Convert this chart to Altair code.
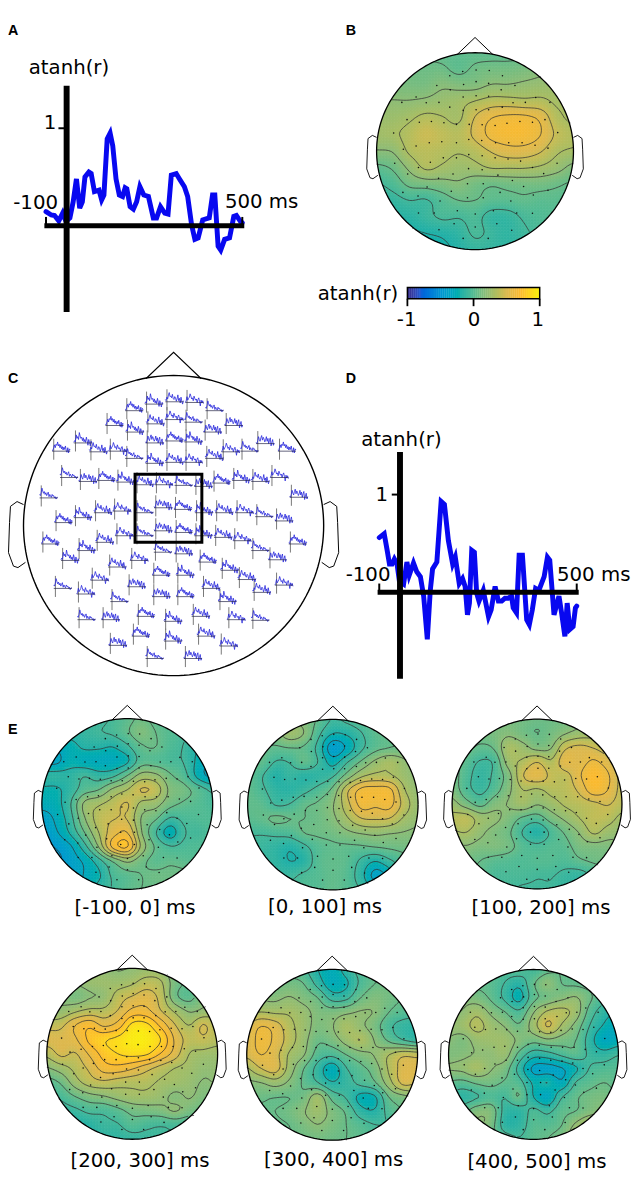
import math
import numpy as np
import pandas as pd
import altair as alt

FONT = "DejaVu Sans"

# ---------- line panels (time in ms, value in atanh(r)) ----------
A_T = [-100,-84,-74,-61,-49,-39,-27,-17,-7,3,11,19,31,38,48,62,70,77,87,96,104,114,124,134,142,147,157,167,177,187,199,213,228,238,250,263,273,283,298,308,323,333,345,355,365,379,399,409,416,426,434,446,461,474,482,494,500]
A_V = [.145,.11,.105,.05,.13,.045,.08,.245,.48,.18,.245,.5,.55,.535,.35,.365,.265,.315,.89,.95,.82,.48,.315,.30,.39,.38,.195,.17,.245,.40,.315,.30,.08,.08,.195,.13,.12,.52,.535,.48,.40,.30,.01,-.14,-.125,.06,.08,.315,.315,-.21,-.25,-.14,-.125,.095,.105,.045,.03]
D_T = [-100,-85,-76,-69,-61,-54,-46,-39,-26,-16,-9,4,14,25,35,46,55,62,75,88,98,110,123,131,143,153,161,168,174,181,189,196,203,216,232,240,252,262,272,282,292,302,307,317,325,335,348,356,365,375,385,401,411,418,431,446,454,464,471,479,489,496,500]
D_V = [.56,.60,.43,.29,.29,.34,.29,.12,.085,.31,.175,.30,.21,.16,-.04,-.48,.02,.24,.31,.93,.90,.53,.29,.36,.09,.14,.06,-.23,-.11,.43,.41,-.01,-.09,.02,-.25,-.18,.06,-.09,-.09,-.06,-.06,-.04,-.16,-.21,.38,.38,-.28,-.33,-.18,.04,.02,.16,.36,.33,-.23,-.04,-.21,-.45,-.11,-.38,-.35,-.16,-.14]

# ---------- colour scale ----------
CMAP_V = [-1, -.8, -.5, -.2, 0, .2, .5, .7, 1]
CMAP_C = ["#352a87", "#1a5ed6", "#0f94d2", "#1eb0a8", "#55bb92", "#90bd76", "#dcb950", "#fbba30", "#f8f210"]
LEVELS = [-.59, -.46, -.33, -.20, -.07, .06, .19, .32, .45, .58, .71, .84]

# ---------- topographies: atanh(r) x 100 on a 13 x 13 scalp grid ----------
MAP_B = [
[5,5,5,5,3,3,3,3,3,3,5,8,8],
[8,8,8,8,8,3,8,10,10,12,15,18,18],
[12,12,12,12,17,15,15,20,20,22,24,25,25],
[20,20,20,22,25,28,33,38,38,36,36,30,30],
[25,26,30,36,33,30,46,58,62,62,55,36,30],
[28,30,36,44,40,37,48,62,66,66,58,42,35],
[18,20,34,38,36,33,37,46,52,52,46,34,30],
[3,8,22,34,30,26,28,33,33,33,30,24,15],
[-8,-2,9,12,14,17,11,8,10,11,11,8,4],
[-15,-12,-7,-8,0,6,6,2,2,4,2,2,0],
[-20,-18,-16,-11,-5,-6,-3,-12,-12,-5,-2,0,0],
[-25,-25,-22,-20,-18,-14,-5,-10,-14,-9,-4,-2,0],
[-25,-25,-25,-24,-22,-18,-12,-12,-14,-12,-8,-4,-2]]
MAP_E1 = [
[-10,-10,-10,-10,-10,-5,2,8,2,-2,-5,-8,-10],
[-15,-15,-15,-12,-8,-5,4,14,6,0,-5,-12,-15],
[-30,-30,-25,-18,-18,-20,-10,4,6,-2,-8,-20,-25],
[-36,-36,-25,-28,-30,-30,-22,0,0,-4,-8,-24,-35],
[-15,-15,-15,-8,-14,-10,6,24,22,8,-2,-25,-38],
[-22,-22,-14,0,6,22,32,46,40,16,10,0,-10],
[-28,-25,-8,22,30,38,46,28,24,10,4,0,-5],
[-40,-30,-12,18,38,44,44,18,8,-8,-4,-2,-2],
[-45,-35,-18,6,32,52,58,20,-6,-26,-8,-6,-2],
[-50,-45,-35,-12,20,62,72,28,4,-6,-4,-2,-2],
[-50,-50,-40,-30,-12,8,22,10,2,4,2,0,0],
[-50,-50,-42,-32,-22,-4,2,6,8,8,8,4,4],
[-45,-45,-40,-28,-15,-6,2,6,6,6,6,6,6]]
MAP_E2 = [
[0,0,8,18,14,4,-8,-4,2,4,6,8,8],
[4,6,14,26,18,-4,-20,-18,-8,2,6,8,8],
[6,6,4,6,4,-12,-42,-30,-10,2,6,8,10],
[6,4,-8,-6,4,-8,-25,-8,8,22,30,22,14],
[5,-6,-18,-12,-16,-14,-8,12,30,36,34,26,18],
[4,-4,-14,-16,-10,-2,10,42,62,64,62,34,22],
[4,2,-8,-6,4,8,18,40,62,60,62,40,24],
[2,4,8,6,6,8,16,30,44,46,44,30,22],
[-6,-6,-4,-2,6,8,10,16,20,22,20,18,16],
[-8,-10,-14,-18,-10,0,4,4,4,6,8,10,12],
[-10,-10,-14,-20,-16,0,4,2,-10,-20,-10,0,6],
[-10,-10,-12,-10,-4,0,4,0,-15,-38,-28,-8,4],
[-6,-6,-6,-4,-2,0,4,0,-8,-20,-20,-6,2]]
MAP_E3 = [
[10,10,10,10,12,10,8,8,10,14,18,20,20],
[12,10,10,12,16,10,6,10,18,24,26,26,26],
[15,10,4,8,30,24,14,18,42,48,44,36,30],
[12,2,-8,-4,26,34,44,34,54,52,60,50,36],
[12,-2,-12,-4,14,44,54,42,40,56,70,60,40],
[14,-2,-10,0,16,32,30,36,38,48,66,58,40],
[24,12,2,14,20,28,20,26,34,38,42,46,38],
[36,38,26,22,14,4,0,12,22,32,40,38,28],
[30,32,22,14,8,-8,-18,-4,8,20,34,26,22],
[16,18,14,14,10,0,-4,0,2,12,14,14,16],
[12,10,6,2,0,-2,0,0,-2,4,8,10,12],
[6,6,4,-4,-4,-4,-6,-6,-10,-12,-4,6,8],
[4,4,2,-4,-6,-8,-8,-8,-12,-12,-8,2,6]]
MAP_E4 = [
[20,20,20,22,20,18,20,24,22,8,2,2,4],
[22,22,20,24,26,26,30,38,34,12,4,6,8],
[25,18,12,18,22,38,46,52,40,10,2,14,10],
[20,22,30,36,36,46,62,62,46,30,18,22,26],
[40,42,58,68,56,64,88,88,68,46,32,46,34],
[50,50,56,74,82,88,96,96,84,56,40,42,36],
[36,48,44,60,76,84,88,86,70,52,32,28,26],
[18,26,36,48,64,66,60,50,40,32,28,22,22],
[0,8,26,38,42,38,36,36,30,28,24,18,20],
[-10,-4,6,14,18,24,28,28,24,16,20,14,14],
[-18,-14,-10,-4,-4,2,10,12,14,20,12,8,8],
[-22,-22,-20,-16,-10,-8,0,-4,-6,-4,-4,2,4],
[-24,-24,-22,-18,-14,-14,-12,-10,-8,-6,-4,0,2]]
MAP_E5 = [
[2,2,2,2,-4,-20,-28,-14,-2,4,6,6,6],
[6,6,8,10,6,-12,-28,-22,-4,6,8,8,8],
[14,16,16,20,14,6,-12,-10,6,14,10,6,4],
[30,32,30,30,24,14,12,16,20,18,6,0,-2],
[45,58,52,36,26,14,18,30,22,12,-4,-12,-14],
[50,62,55,38,24,8,12,24,32,18,4,-6,-12],
[48,58,50,30,20,0,-4,6,14,20,32,42,40],
[30,44,50,26,6,-12,-28,-8,2,12,34,50,50],
[16,18,24,16,4,-6,-18,-12,-4,4,26,48,44],
[10,8,6,6,10,26,2,-8,-24,-22,6,14,20],
[0,4,6,10,18,26,14,4,-14,-18,-2,6,8],
[0,2,4,6,12,18,12,6,0,-6,-6,2,6],
[2,2,4,6,8,10,8,6,2,-2,0,2,4]]
MAP_E6 = [
[4,4,4,4,0,0,-6,2,6,6,4,2,2],
[4,6,4,2,-8,-16,4,18,6,4,2,0,0],
[8,14,12,4,-10,-24,2,10,16,20,8,-4,-6],
[16,20,28,16,6,-4,18,34,36,26,0,-14,-20],
[22,26,36,26,18,8,26,46,30,14,-8,-22,-32],
[18,14,24,26,26,16,10,16,12,6,-14,-32,-28],
[14,16,20,20,24,2,-14,-12,-4,2,-10,-14,-8],
[20,22,30,20,12,-12,-36,-38,-34,-22,-6,-2,0],
[4,2,8,10,4,-2,-22,-20,-30,-6,2,6,2],
[-8,-14,-8,-2,-6,6,-20,-32,-8,4,10,12,6],
[6,2,14,14,-12,-14,-4,-10,2,6,14,18,12],
[10,8,20,12,-14,-14,0,0,6,22,32,24,14],
[8,6,10,6,0,-6,2,6,14,30,28,20,14]]

# ---------- sensors of panel C, in scalp units ----------
SENSOR_X = [385,445,507,568,629,687,325,387,449,507,565,623,163,229,276,335,385,447,507,565,628,678,735,783,849,447,507,565,187,244,300,358,416,475,535,595,650,710,768,826,125,885,170,229,290,348,416,473,533,597,658,720,780,840,130,240,295,355,416,473,535,595,655,713,768,820,882,190,333,400,472,535,608,675,727,280,168,392,467,540,618,238,340,467,540,668,772,840,240,313,420,503,587,695,768,335,405,503,603,672,447,563]
SENSOR_Y = [205,185,178,180,205,250,250,270,245,232,240,270,328,303,330,328,350,303,297,300,350,330,328,305,328,365,362,362,408,420,417,422,430,430,432,435,425,417,420,408,470,468,545,530,515,510,515,500,505,515,515,515,527,540,610,630,605,585,585,570,575,585,590,600,630,658,610,660,680,660,635,640,665,690,718,720,745,740,705,705,745,762,785,770,770,785,757,735,840,840,830,845,830,840,842,918,890,905,890,920,958,958]
TRACE_T = [-100,-74,-48,-22,4,30,56,82,108,134,160,186,212,238,264,290,316,342,368,394,420,446,472,498]
TRACES = [
[.1,.05,.3,.55,.3,.6,.5,.8,.45,.6,.3,.55,.2,.4,.1,.35,.15,.45,.05,-.1,.3,-.15,.2,.1],
[.05,.2,.1,.7,.4,.55,.3,.9,.6,.4,.5,.2,.45,.1,.3,.05,.5,.2,-.2,.3,.05,-.25,.15,0],
[.2,.1,.4,.25,.6,.8,.45,.5,.35,.65,.3,.2,.45,.35,.05,.25,.6,.1,.3,-.1,.4,.05,-.2,.1],
[0,.15,.5,.2,.35,.45,.75,.55,.3,.4,.15,.55,.35,.2,.3,0,.25,.4,.1,-.3,.2,-.05,.15,-.1],
[.3,.2,.45,.85,.6,.4,.55,.3,.45,.2,.35,.5,.1,.3,.15,.05,.3,.15,.2,0,.1,-.1,.05,.05],
[.1,0,.25,.6,.35,.2,.5,.7,.3,.55,.4,.15,.3,.6,.2,.45,0,.3,.5,-.2,.1,.35,-.15,.05]]

# ---------- head outline in head radii ----------
NOSE_X = [-.183, 0, .183]
NOSE_Y = [.98, 1.155, .98]
EAR_X = [1.0, 1.043, 1.087, 1.093, 1.10, 1.067, 1.037, .987]
EAR_Y = [.14, .16, .128, .02, -.18, -.27, -.28, -.245]


def scale(dom, rng):
    return alt.Scale(domain=dom, range=[r - 8 for r in rng], nice=False, zero=False)


def line_layer(xs, ys, xsc, ysc, color="black", width=1.0, cap="butt"):
    df = pd.DataFrame({"x": xs, "y": ys, "i": range(len(xs))})
    return alt.Chart(df).mark_line(color=color, strokeWidth=width, strokeCap=cap, strokeJoin="miter", clip=False).encode(
        x=alt.X("x:Q", scale=xsc, axis=None),
        y=alt.Y("y:Q", scale=ysc, axis=None),
        order=alt.Order("i:Q"))


def rule_layer(x1, y1, x2, y2, xsc, ysc, color="black", width=1.0):
    df = pd.DataFrame({"x": x1, "y": y1, "x2": x2, "y2": y2})
    return alt.Chart(df).mark_rule(color=color, strokeWidth=width).encode(
        x=alt.X("x:Q", scale=xsc, axis=None), y=alt.Y("y:Q", scale=ysc, axis=None),
        x2="x2:Q", y2="y2:Q")


def label(text, x, y, align="left", size=20, font=FONT, weight="normal"):
    return alt.Chart(pd.DataFrame({"t": [text]})).mark_text(
        align=align, baseline="alphabetic", fontSize=size, font=font, fontWeight=weight, color="black"
    ).encode(text="t:N", x=alt.value(x - 8), y=alt.value(y - 8))


def weights(n):
    # Catmull-Rom resampling of the 13 grid nodes onto n+1 display nodes
    W = np.zeros((n + 1, 13))
    for k, u in enumerate(np.linspace(0, 12, n + 1)):
        i = min(int(u), 11)
        t = u - i
        c = [(-t**3 + 2*t*t - t) / 2, (3*t**3 - 5*t*t + 2) / 2, (-3*t**3 + 4*t*t + t) / 2, (t**3 - t*t) / 2]
        for j, w in zip([i - 1, i, i + 1, i + 2], c):
            W[k, min(max(j, 0), 12)] += w
    return W


def contours(F, us):
    segs = []
    n = len(us) - 1
    vs = us[::-1]
    for lv in LEVELS:
        for r in range(n):
            for c in range(n):
                a, b, d, e = F[r, c], F[r, c + 1], F[r + 1, c + 1], F[r + 1, c]
                if min(a, b, d, e) > lv or max(a, b, d, e) < lv:
                    continue
                xm, ym = (us[c] + us[c + 1]) / 2, (vs[r] + vs[r + 1]) / 2
                if xm * xm + ym * ym > 1:
                    continue
                pts = []
                if (a - lv) * (b - lv) < 0:
                    pts.append((us[c] + (lv - a) / (b - a) * (us[c + 1] - us[c]), vs[r]))
                if (b - lv) * (d - lv) < 0:
                    pts.append((us[c + 1], vs[r] + (lv - b) / (d - b) * (vs[r + 1] - vs[r])))
                if (e - lv) * (d - lv) < 0:
                    pts.append((us[c] + (lv - e) / (d - e) * (us[c + 1] - us[c]), vs[r + 1]))
                if (a - lv) * (e - lv) < 0:
                    pts.append((us[c], vs[r] + (lv - a) / (e - a) * (vs[r + 1] - vs[r])))
                if len(pts) >= 2:
                    segs.append(pts[0] + pts[1])
                if len(pts) == 4:
                    segs.append(pts[2] + pts[3])
    return segs


COLOR = alt.Scale(domain=CMAP_V, range=CMAP_C, clamp=True)


def head_outline(cx, cy, R, lw=1.0):
    xs = scale([-1, 1], [cx - R, cx + R])
    ys = scale([-1, 1], [cy + R, cy - R])
    ang = np.linspace(0, 2 * math.pi, 181)
    out = [line_layer(np.cos(ang), np.sin(ang), xs, ys, width=lw + .3),
           line_layer(NOSE_X, NOSE_Y, xs, ys, width=lw),
           line_layer(EAR_X, EAR_Y, xs, ys, width=lw * .9),
           line_layer([-e for e in EAR_X], EAR_Y, xs, ys, width=lw * .9)]
    return out


def topo(G, cx, cy, R):
    n = int(round(2 * R / 3))
    W = weights(n)
    F = W @ (np.array(G, dtype=float) / 100) @ W.T
    us = np.linspace(-1, 1, n + 1)
    h = 1.0 / n
    xs = scale([-1, 1], [cx - R, cx + R])
    ys = scale([-1, 1], [cy + R, cy - R])
    rows = []
    for r, v in enumerate(us[::-1]):
        for c, u in enumerate(us):
            if u * u + v * v <= (1 + 2 * h) ** 2:
                rows.append((round(u - h, 4), round(u + h, 4), round(v - h, 4), round(v + h, 4), round(F[r, c], 3)))
    cells = pd.DataFrame(rows, columns=["x", "x2", "y", "y2", "v"])
    cl = alt.Chart(cells).mark_rect(strokeWidth=.7).encode(
        x=alt.X("x:Q", scale=xs, axis=None), x2="x2:Q",
        y=alt.Y("y:Q", scale=ys, axis=None), y2="y2:Q",
        color=alt.Color("v:Q", scale=COLOR, legend=None),
        stroke=alt.Stroke("v:Q", scale=COLOR, legend=None))
    mask = alt.Chart(pd.DataFrame({"x": [0], "y": [0]})).mark_arc(
        radius=R + .2, radius2=R + 9, theta=0, theta2=2 * math.pi, color="white", stroke="white", strokeWidth=0
    ).encode(x=alt.X("x:Q", scale=xs, axis=None), y=alt.Y("y:Q", scale=ys, axis=None))
    segs = contours(F, us)
    sg = np.round(np.array(segs), 4)
    cont = rule_layer(sg[:, 0], sg[:, 1], sg[:, 2], sg[:, 3], xs, ys, color="#333333", width=.75)
    dots = alt.Chart(pd.DataFrame({
        "x": [(z + 25 - 527) / 456 for z in SENSOR_X],
        "y": [(554 - z) / 456 for z in SENSOR_Y]})).mark_circle(size=2.5, color="#111111", opacity=1).encode(
        x=alt.X("x:Q", scale=xs, axis=None), y=alt.Y("y:Q", scale=ys, axis=None))
    return [cl, mask, cont, dots] + head_outline(cx, cy, R)


def line_panel(T, V, x0, x1, y0, y1):
    xs = scale([-100, 500], [x0, x1])
    ys = scale([0, 1], [y0, y1])
    out = [line_layer(T, V, xs, ys, color="#0808f0", width=5, cap="round"),
           rule_layer([-37], [1.436], [-37], [-.885], xs, ys, width=6),
           rule_layer([-105], [0], [506], [0], xs, ys, width=5),
           rule_layer([-100], [0], [-100], [.09], xs, ys, width=2),
           rule_layer([500], [0], [500], [.09], xs, ys, width=2),
           rule_layer([-62], [1], [-37], [1], xs, ys, width=2)]
    return out


layers = []
# panel letters
for txt, x, y in [("A", 8, 27.5), ("B", 350, 27.5), ("C", 8, 380.5), ("D", 350, 380.5), ("E", 8, 736)]:
    layers.append(label(txt, x, y, size=14.5, font="Liberation Sans", weight="bold"))

# A
layers += line_panel(A_T, A_V, 46.5, 245.3, 221, 122.3)
layers += [label("atanh(r)", 29, 67.7), label("1", 57, 122.7, "right"), label("-100", 13.3, 204), label("500 ms", 227.7, 203.3)]

# B
layers += topo(MAP_B, 481, 145.5, 99.7)
cb_v = np.linspace(-1, 1, 69)
cb = pd.DataFrame({"x": cb_v[:-1], "x2": cb_v[1:] + .005, "v": (cb_v[:-1] + cb_v[1:]) / 2})
cbx = scale([-1, 1], [412.5, 546.5])
layers.append(alt.Chart(cb).mark_rect().encode(
    x=alt.X("x:Q", scale=cbx, axis=None), x2="x2:Q", y=alt.value(283.5 - 8), y2=alt.value(295 - 8),
    color=alt.Color("v:Q", scale=COLOR, legend=None)))
layers.append(alt.Chart(pd.DataFrame({"x": [-1], "x2": [1]})).mark_rect(fill=None, stroke="black", strokeWidth=1.5).encode(
    x=alt.X("x:Q", scale=cbx, axis=None), x2="x2:Q", y=alt.value(283.5 - 8), y2=alt.value(295 - 8)))
layers.append(alt.Chart(pd.DataFrame({"x": [-1, 0, 1]})).mark_rule(color="black", strokeWidth=1.8).encode(
    x=alt.X("x:Q", scale=cbx, axis=None), y=alt.value(295 - 8), y2=alt.value(302.5 - 8)))
layers += [label("atanh(r)", 321.7, 296), label("-1", 411.7, 322.7, "center"), label("0", 480, 322.7, "center"), label("1", 544.5, 322.7, "center")]

# C
cxs = scale([0, 1050], [0, 350])
cys = scale([0, 1050], [340, 690])
layers += head_outline(175.7, 524.7, 152, lw=1.1)
tr_rows = []
for s, (zx, zy) in enumerate(zip(SENSOR_X, SENSOR_Y)):
    vals = TRACES[s % len(TRACES)]
    for i, (t, v) in enumerate(zip(TRACE_T, vals)):
        tr_rows.append((zx + (t + 100) / 600 * 55 - 5, zy - v * 35, s, i))
tr = pd.DataFrame(tr_rows, columns=["x", "y", "s", "i"])
layers.append(rule_layer(SENSOR_X, [z - 38 for z in SENSOR_Y], SENSOR_X, [z + 26 for z in SENSOR_Y], cxs, cys, color="#777777", width=1))
layers.append(alt.Chart(tr).mark_line(color="#2626dc", strokeWidth=.8).encode(
    x=alt.X("x:Q", scale=cxs, axis=None), y=alt.Y("y:Q", scale=cys, axis=None),
    detail="s:N", order=alt.Order("i:Q")))
layers.append(rule_layer([z - 5 for z in SENSOR_X], SENSOR_Y, [z + 50 for z in SENSOR_X], SENSOR_Y, cxs, cys, color="#222244", width=.7))
layers.append(alt.Chart(pd.DataFrame({"x": [410], "x2": [613], "y": [398], "y2": [605]})).mark_rect(
    fill=None, stroke="black", strokeWidth=3).encode(
    x=alt.X("x:Q", scale=cxs, axis=None), x2="x2:Q", y=alt.Y("y:Q", scale=cys, axis=None), y2="y2:Q"))

# D
layers += line_panel(D_T, D_V, 384, 584, 592.3, 493.3)
layers += [label("atanh(r)", 365.7, 444.3), label("1", 393, 500, "right"), label("-100", 350, 580.7), label("500 ms", 564, 580.7)]

# E
for G, cx, cy, R, txt, tx, ty in [
    (MAP_E1, 128.8, 806.7, 86.5, "[-100, 0] ms", 136.7, 918),
    (MAP_E2, 337, 807.3, 86.3, "[0, 100] ms", 329, 917.3),
    (MAP_E3, 543.8, 806.7, 86, "[100, 200] ms", 547.8, 918.3),
    (MAP_E4, 133.8, 1059.7, 86.5, "[200, 300] ms", 141.7, 1174),
    (MAP_E5, 336.3, 1060.7, 86.5, "[300, 400] ms", 337.8, 1173.3),
    (MAP_E6, 540.2, 1060.3, 86, "[400, 500] ms", 543.7, 1175)]:
    layers += topo(G, cx, cy, R)
    layers.append(label(txt, tx, ty, "center"))

chart = alt.layer(*layers).resolve_scale(x="independent", y="independent").properties(
    width=634, height=1173, padding=0, autosize=alt.AutoSizeParams(type="none"), background="white"
).configure_view(stroke=None)

chart.save("out.html", embed_options={"renderer": "svg", "actions": False})
